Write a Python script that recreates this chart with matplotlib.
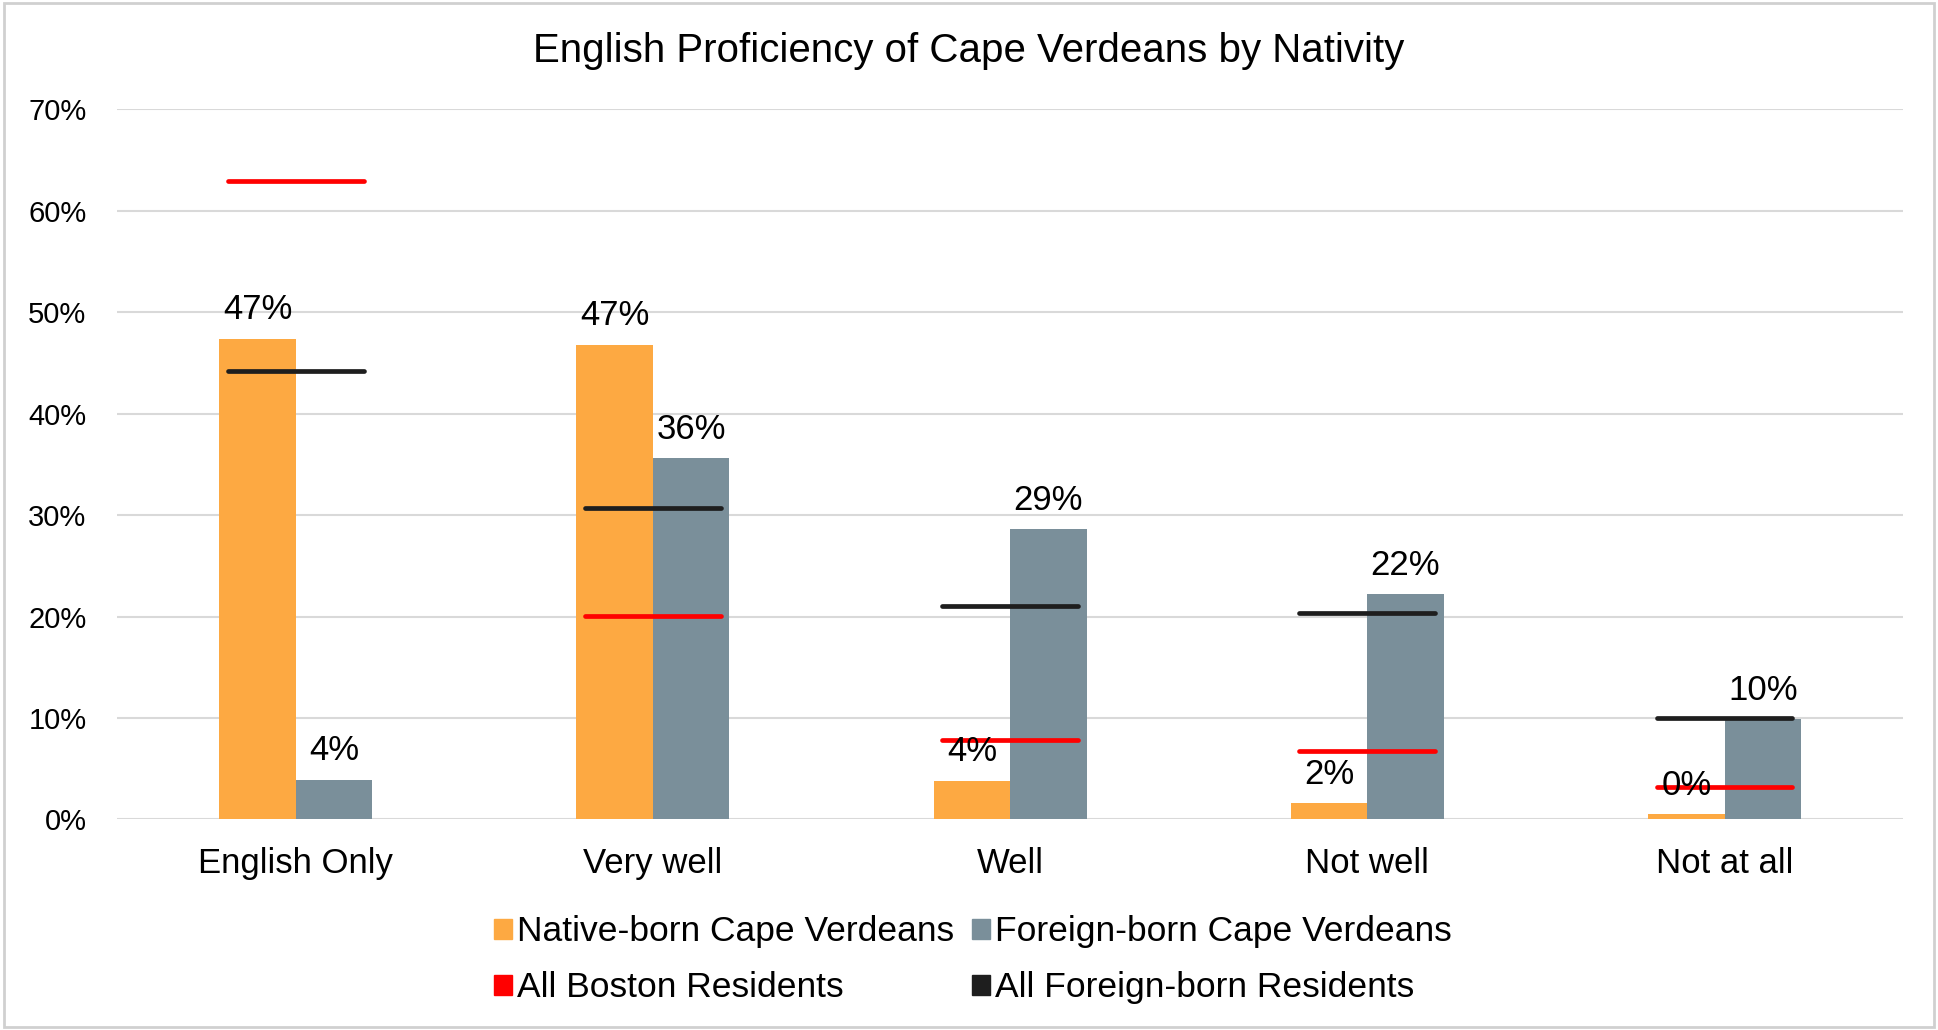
import numpy as np
import matplotlib.pyplot as plt
from matplotlib.patches import Patch, Rectangle

plt.rcParams['font.family'] = ['Liberation Sans', 'DejaVu Sans']

# data (percent)
categories = ['English Only', 'Very well', 'Well', 'Not well', 'Not at all']
native_born = [47.4, 46.8, 3.8, 1.6, 0.5]
foreign_born = [3.9, 35.6, 28.6, 22.2, 9.9]
all_boston = [62.9, 20.1, 7.8, 6.7, 3.2]
all_foreign = [44.2, 30.7, 21.0, 20.3, 10.0]
native_labels = ['47%', '47%', '4%', '2%', '0%']
foreign_labels = ['4%', '36%', '29%', '22%', '10%']

orange = '#FDA942'
slate = '#7A8F9A'
red = '#FF0000'
black = '#1E1E1E'

fig = plt.figure(figsize=(19.38, 10.30), dpi=100)
ax = fig.add_axes([0.0604, 0.2044, 0.9216, 0.6896])

x = np.arange(len(categories))
w = 0.214

ax.bar(x - w / 2, native_born, width=w, color=orange, zorder=2)
ax.bar(x + w / 2, foreign_born, width=w, color=slate, zorder=2)

# reference lines for all residents
half = 0.19
for i in range(len(categories)):
    ax.plot([i - half, i + half], [all_boston[i], all_boston[i]], color=red,
            lw=3.4, solid_capstyle='round', zorder=3)
    ax.plot([i - half, i + half], [all_foreign[i], all_foreign[i]], color=black,
            lw=3.4, solid_capstyle='round', zorder=3)

# data labels
for i in range(len(categories)):
    ax.annotate(native_labels[i], (x[i] - w / 2, native_born[i]), xytext=(0, 9),
                textcoords='offset points', ha='center', va='bottom', fontsize=25, zorder=4)
    ax.annotate(foreign_labels[i], (x[i] + w / 2, foreign_born[i]), xytext=(0, 9),
                textcoords='offset points', ha='center', va='bottom', fontsize=25, zorder=4)

ax.set_xlim(-0.5, len(categories) - 0.5)
ax.set_ylim(0, 70)
ax.set_yticks(np.arange(0, 71, 10))
ax.set_yticklabels([f'{v}%' for v in range(0, 71, 10)], fontsize=21)
ax.set_xticks(x)
ax.set_xticklabels(categories, fontsize=25)
ax.tick_params(axis='x', length=0, pad=20)
ax.tick_params(axis='y', length=0, pad=22)
ax.yaxis.grid(True, color='#D9D9D9', lw=1.5, zorder=0)
ax.set_axisbelow(True)
for s in ax.spines.values():
    s.set_visible(False)

fig.text(0.5, 0.950, 'English Proficiency of Cape Verdeans by Nativity',
         ha='center', va='center', fontsize=29)

handles = [Patch(color=orange), Patch(color=red), Patch(color=slate), Patch(color=black)]
labels = ['Native-born Cape Verdeans', 'All Boston Residents',
          'Foreign-born Cape Verdeans', 'All Foreign-born Residents']
fig.legend(handles, labels, ncol=2, loc='center', bbox_to_anchor=(0.502, 0.068),
           frameon=False, fontsize=25.5, handlelength=0.5, handleheight=0.5,
           handletextpad=0.15, columnspacing=0.5, labelspacing=0.65)

# light frame around the chart
fig.patches.append(Rectangle((0.002, 0.003), 0.996, 0.994, transform=fig.transFigure,
                             fill=False, edgecolor='#D0D0D0', lw=2))

fig.savefig('out.png', dpi=100)
